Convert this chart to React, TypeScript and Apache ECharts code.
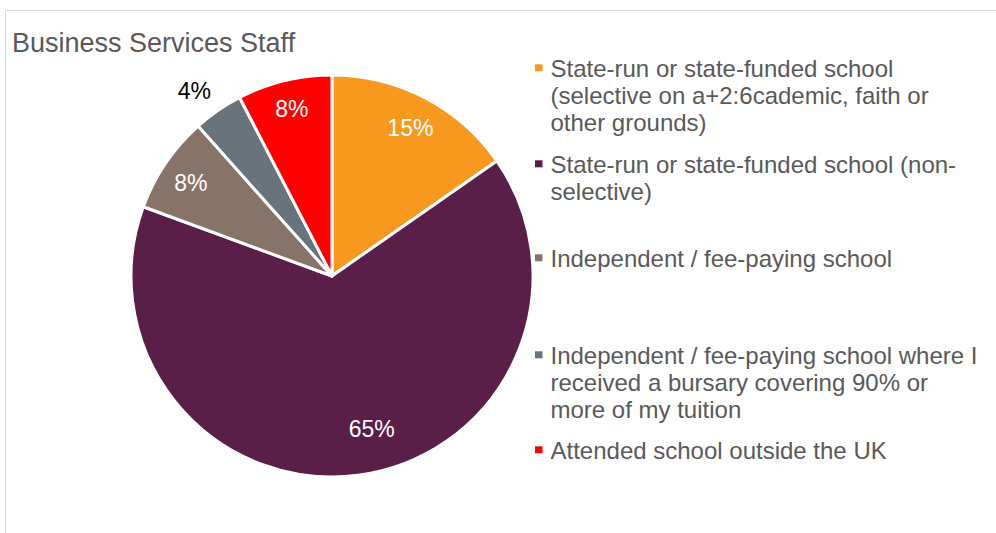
import React, { useEffect, useRef } from "react";
import * as echarts from "echarts";

const categories = [
  "State-run or state-funded school (selective on a+2:6cademic, faith or other grounds)",
  "State-run or state-funded school (non-selective)",
  "Independent / fee-paying school",
  "Independent / fee-paying school where I received a bursary covering 90% or more of my tuition",
  "Attended school outside the UK",
];
const legendLines = [
  ["State-run or state-funded school", "(selective on a+2:6cademic, faith or", "other grounds)"],
  ["State-run or state-funded school (non-", "selective)"],
  ["Independent / fee-paying school"],
  ["Independent / fee-paying school where I", "received a bursary covering 90% or", "more of my tuition"],
  ["Attended school outside the UK"],
];
const values = [15.3, 65.3, 7.8, 4.0, 7.6];
const colors = ["#F7991F", "#5A1F48", "#887369", "#69737C", "#FF0000"];
const outsideLabelIndex = [3];
const titleText = "Business Services Staff";

// layout
const legendTops = [68, 164, 258, 355, 450];
const labelOffsets: [number, number][] = [[0, 2], [18, -15], [-1, 2], [-6, 6], [0, -2]];
const FONT = "'Liberation Sans', Arial, sans-serif";

export default function App() {
  const ref = useRef<HTMLDivElement>(null);
  useEffect(() => {
    document.body.style.margin = "0";
    const chart = echarts.init(ref.current!, undefined, { renderer: "svg" });
    const data = categories.map((name, i) => ({
      name,
      value: values[i],
      itemStyle: { color: colors[i] },
    }));
    const fmt = (p: any) => Math.round(p.percent) + "%";
    const center = [332, 276];
    const graphic: any[] = [
      {
        type: "rect",
        shape: { x: 5.5, y: 10.5, width: 1200, height: 800 },
        style: { fill: "none", stroke: "#D9D9D9", lineWidth: 1 },
        silent: true,
        z: -10,
      },
      {
        type: "text",
        x: 12,
        y: 43,
        style: {
          text: titleText,
          font: `27px ${FONT}`,
          fill: "#595959",
          verticalAlign: "middle",
        },
      },
    ];
    legendLines.forEach((lines, i) => {
      graphic.push({
        type: "rect",
        shape: { x: 535, y: legendTops[i] - 3.7, width: 7.5, height: 7 },
        style: { fill: colors[i] },
      });
      graphic.push({
        type: "text",
        x: 550.5,
        y: legendTops[i] - 13.5,
        style: {
          text: lines.join("\n"),
          font: `24px ${FONT}`,
          fill: "#595959",
          lineHeight: 27,
          verticalAlign: "top",
        },
      });
    });
    chart.setOption({
      animation: false,
      graphic,
      series: [
        {
          type: "pie",
          center,
          radius: 201,
          startAngle: 90,
          clockwise: true,
          silent: true,
          label: { show: false },
          labelLine: { show: false },
          itemStyle: { borderColor: "#FFFFFF", borderWidth: 3 },
          data,
        },
        {
          type: "pie",
          center,
          radius: [132, 201],
          startAngle: 90,
          silent: true,
          itemStyle: { color: "rgba(0,0,0,0)", borderWidth: 0 },
          label: {
            show: true,
            position: "inside",
            formatter: fmt,
            color: "#FFFFFF",
            fontSize: 23,
            fontFamily: FONT,
          },
          labelLine: { show: false },
          data: data.map((d, i) => ({
            name: d.name,
            value: d.value,
            itemStyle: { color: "rgba(0,0,0,0)" },
            label: { show: !outsideLabelIndex.includes(i), offset: labelOffsets[i] },
          })),
        },
        {
          type: "pie",
          center,
          radius: [210, 248],
          startAngle: 90,
          silent: true,
          itemStyle: { color: "rgba(0,0,0,0)", borderWidth: 0 },
          label: {
            show: true,
            position: "inside",
            formatter: fmt,
            color: "#000000",
            fontSize: 23,
            fontFamily: FONT,
          },
          labelLine: { show: false },
          data: data.map((d, i) => ({
            name: d.name,
            value: d.value,
            itemStyle: { color: "rgba(0,0,0,0)" },
            label: { show: outsideLabelIndex.includes(i), offset: labelOffsets[i] },
          })),
        },
      ],
    });
    return () => chart.dispose();
  }, []);
  return <div ref={ref} style={{ width: 996, height: 533 }} />;
}
